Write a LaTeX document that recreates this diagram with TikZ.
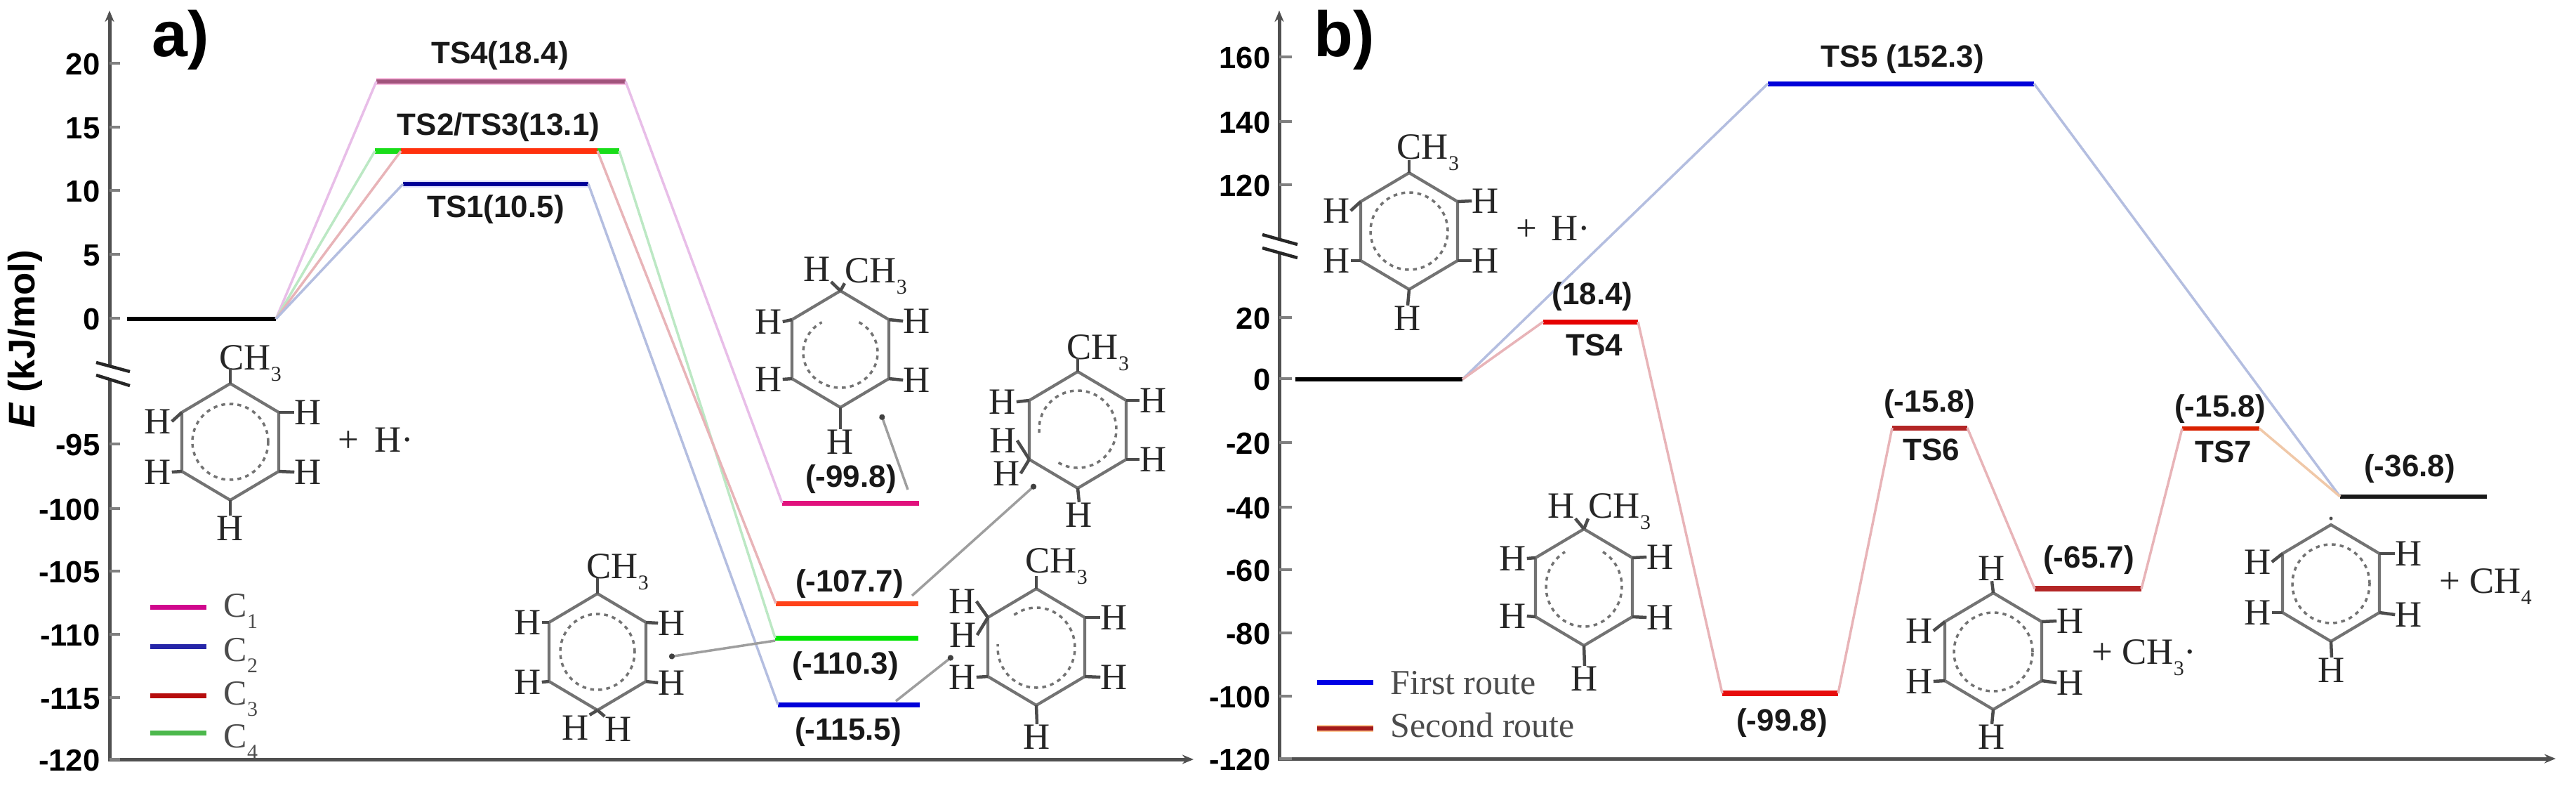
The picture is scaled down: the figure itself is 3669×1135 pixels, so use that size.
\documentclass[tikz,border=0pt]{standalone}
\usepackage{fontspec}
\setmainfont{Liberation Serif}
\newfontfamily\arialf{Liberation Sans}
\usetikzlibrary{arrows.meta}
\definecolor{axc}{HTML}{505050}
\definecolor{conM}{HTML}{E8BEE8}
\definecolor{conG}{HTML}{BCE8C4}
\definecolor{conR}{HTML}{E8B4B8}
\definecolor{conB}{HTML}{B4BEE0}
\definecolor{conO}{HTML}{F0C8A8}
\tikzset{
  x=0.01cm,y=-0.01cm,
  axisline/.style={draw=axc,line width=0.05cm},
  axisarrow/.style={axisline,-{Stealth[length=0.16cm,width=0.13cm]}},
  tickline/.style={draw=gray,line width=0.04cm},
  breakline/.style={draw=black!85,line width=0.045cm},
  ticklab/.style={anchor=east,inner sep=0pt,font=\arialf\bfseries\fontsize{12.4}{14}\selectfont,text height=0.32cm,text depth=0pt},
  lab/.style={inner sep=0pt,font=\arialf\bfseries\fontsize{12.5}{14}\selectfont,text=black!90,text height=0.32cm,text depth=0.07cm},
  panel/.style={inner sep=0pt,font=\arialf\bfseries\fontsize{26}{28}\selectfont},
  ylab/.style={inner sep=0pt,rotate=90,font=\arialf\bfseries\fontsize{15}{17}\selectfont},
  hlab/.style={inner sep=0pt,font=\fontsize{15}{17}\selectfont,text=black!85,text height=0.35cm,text depth=0pt},
  chem/.style={inner sep=0pt,anchor=west,font=\fontsize{15}{17}\selectfont,text=black!85,text height=0.35cm,text depth=0pt},
  legtext/.style={inner sep=0pt,anchor=west,font=\fontsize{14.2}{16}\selectfont,text=black!70,text height=0.33cm,text depth=0pt},
  ringline/.style={draw=black!55,line width=0.042cm,line join=round},
  ringdash/.style={draw=black!55,line width=0.035cm,dash pattern=on 0.055cm off 0.06cm},
  bond/.style={draw=black!70,line width=0.045cm},
  ptr/.style={draw=black!38,line width=0.035cm,-{Circle[length=0.08cm,black!75]}},
  con/.style={draw=#1,line width=0.035cm},
  lev/.style 2 args={draw=#1,line width=0.025cm,double=#2,double distance=0.055cm},
}
% name, cx, cy, circle cy, rx, ry, start angle, end angle
\newcommand{\ringm}[8]{%
  \coordinate (#11) at (#2,#3-83);
  \coordinate (#12) at (#2+69,#3-42);
  \coordinate (#13) at (#2+69,#3+42);
  \coordinate (#14) at (#2,#3+83);
  \coordinate (#15) at (#2-69,#3+42);
  \coordinate (#16) at (#2-69,#3-42);
  \draw[ringline] (#11)--(#12)--(#13)--(#14)--(#15)--(#16)--cycle;
  \draw[ringdash] plot[domain=#7:#8,samples=48,smooth] ({#2+#5*cos(\x)},{#4-#6*sin(\x)});
}
\newcommand{\atomH}[3]{\node[hlab] (#1) at (#2,#3) {H};}
\newcommand{\lvl}[5]{%
  \coordinate (#1L) at (#2,#4);
  \coordinate (#1R) at (#3,#4);
  \draw[#5] (#1L)--(#1R);
}
\newcommand{\subn}[1]{\raisebox{-0.16cm}{\fontsize{8.5}{9}\selectfont #1}}
\newcommand{\cthree}{CH\subn{3}}
\begin{document}
\begin{tikzpicture}
\useasboundingbox (0,0) rectangle (3669,1135);
% ---------- panel a axes
\coordinate (aTop) at (156,15);
\coordinate (aB1) at (156,522);
\coordinate (aB2) at (156,541);
\coordinate (aO) at (156,1081);
\coordinate (aEnd) at (1700,1081);
\draw[axisarrow,{Stealth[length=0.16cm,width=0.13cm]}-] (aTop)--(aB1);
\draw[axisarrow] (aB2)--(aO)--(aEnd);
\coordinate (aBr1a) at (137,516); \coordinate (aBr1b) at (185,529);
\coordinate (aBr2a) at (137,534); \coordinate (aBr2b) at (185,549);
\draw[breakline] (aBr1a)--(aBr1b);
\draw[breakline] (aBr2a)--(aBr2b);
\foreach \yy/\tt/\nn in {90/20/a,181/15/b,271/10/c,362/5/d,453/0/e,632/-95/f,724/-100/g,813/-105/h,903/-110/i,993/-115/j,1081/-120/k}{
  \node[ticklab] (at\nn) at (143,\yy) {\tt};
  \coordinate (atk\nn) at (156,\yy);
  \draw[tickline] (atk\nn)--++(15,0);
}
\node[panel] (apanel) at (257,57) {a)};
\node[ylab] (aylab) at (36,483) {\textit{E} (kJ/mol)};
% ---------- panel a levels
\lvl{a0}{181}{393}{454}{draw=black,line width=0.06cm}
\lvl{aTSg}{534}{882}{215}{draw=green!85!black!90,line width=0.08cm}
\lvl{aTSo}{571}{851}{215}{draw=orange!30!red!95,line width=0.08cm}
\lvl{aTSm}{536}{891}{116}{lev={magenta!25}{magenta!55!black!90}}
\lvl{aTSb}{574}{838}{262}{lev={blue!12}{blue!60!black}}
\lvl{aPm}{1114}{1309}{716}{draw=magenta!75!purple,line width=0.07cm}
\lvl{aPo}{1105}{1308}{859}{draw=orange!35!red!90,line width=0.07cm}
\lvl{aPg}{1104}{1308}{908}{draw=green!90!black,line width=0.07cm}
\lvl{aPb}{1108}{1310}{1003}{draw=blue!85!black,line width=0.07cm}
\draw[con=conM] (a0R)--(aTSmL);
\draw[con=conG] (a0R)--(aTSgL);
\draw[con=conR] (a0R)--(aTSoL);
\draw[con=conB] (a0R)--(aTSbL);
\draw[con=conM] (aTSmR)--(aPmL);
\draw[con=conG] (aTSgR)--(aPgL);
\draw[con=conR] (aTSoR)--(aPoL);
\draw[con=conB] (aTSbR)--(aPbL);
\node[lab] (aL1) at (712,78) {TS4(18.4)};
\node[lab] (aL2) at (710,180) {TS2/TS3(13.1)};
\node[lab] (aL3) at (706,297) {TS1(10.5)};
\node[lab] (aL4) at (1212,681) {(-99.8)};
\node[lab] (aL5) at (1210,830) {(-107.7)};
\node[lab] (aL6) at (1204,947) {(-110.3)};
\node[lab] (aL7) at (1208,1041) {(-115.5)};
% ---------- legend a
\foreach \nn/\yy/\cc/\ty in {1/864/magenta!85!blue/862,2/920/blue!60!black!85/925,3/990/red!70!black!95/987,4/1043/green!60!black!70/1048}{
  \coordinate (alL\nn) at (214,\yy);
  \coordinate (alR\nn) at (294,\yy);
  \draw[draw=\cc,line width=0.07cm] (alL\nn)--(alR\nn);
  \node[legtext] (alT\nn) at (318,\ty) {C\subn{\nn}};
}
% ---------- molecule 1: toluene + H
\ringm{ma}{328}{629}{629}{54}{54}{0}{360}
\atomH{maR1}{439}{587} \atomH{maR2}{439}{672} \atomH{maL1}{225}{600} \atomH{maL2}{225}{672} \atomH{maB}{328}{752}
\node[chem] (maC) at (312,509) {\cthree};
\node[chem] (maP) at (481,626) {+\hspace{0.22cm}H·};
\draw[bond] (ma1)--(328,524);
\draw[bond] (ma2)--(maR1.west); \draw[bond] (ma3)--(maR2.west);
\draw[bond] (ma6)--(maL1.east); \draw[bond] (ma5)--(maL2.east); \draw[bond] (ma4)--(maB.north);
% ---------- molecule 2: H, CH3 top
\ringm{mb}{1197}{497}{502}{53}{50}{60}{-240}
\atomH{mbR1}{1306}{457} \atomH{mbR2}{1306}{541} \atomH{mbL1}{1095}{458} \atomH{mbL2}{1095}{540} \atomH{mbB}{1197}{629} \atomH{mbT}{1164}{383}
\node[chem] (mbC) at (1203,385) {\cthree};
\draw[bond] (mb1)--(mbT.south east); \draw[bond] (mb1)--(mbC.south west);
\draw[bond] (mb2)--(mbR1.west); \draw[bond] (mb3)--(mbR2.west);
\draw[bond] (mb6)--(mbL1.east); \draw[bond] (mb5)--(mbL2.east); \draw[bond] (mb4)--(mbB.north);
% ---------- molecule 3
\ringm{mc}{1535}{612}{611}{55}{55}{-120}{185}
\atomH{mcR1}{1643}{570} \atomH{mcR2}{1643}{654} \atomH{mcL1}{1428}{572} \atomH{mcL2}{1429}{627} \atomH{mcL3}{1434}{674} \atomH{mcB}{1537}{733}
\node[chem] (mcC) at (1519,494) {\cthree};
\draw[bond] (mc1)--(1535,510);
\draw[bond] (mc2)--(mcR1.west); \draw[bond] (mc3)--(mcR2.west);
\draw[bond] (mc6)--(mcL1.east); \draw[bond] (mc5)--(mcL2.east); \draw[bond] (mc5)--(mcL3.east); \draw[bond] (mc4)--(mcB.north);
% ---------- molecule 4
\ringm{md}{1476}{921}{922}{55}{57}{125}{-185}
\atomH{mdR1}{1587}{879} \atomH{mdR2}{1587}{964} \atomH{mdL1}{1371}{856} \atomH{mdL2}{1372}{904} \atomH{mdL3}{1371}{964} \atomH{mdB}{1477}{1049}
\node[chem] (mdC) at (1460,798) {\cthree};
\draw[bond] (md1)--(1476,820);
\draw[bond] (md2)--(mdR1.west); \draw[bond] (md3)--(mdR2.west);
\draw[bond] (md6)--(mdL1.east); \draw[bond] (md6)--(mdL2.east); \draw[bond] (md5)--(mdL3.east); \draw[bond] (md4)--(mdB.north);
% ---------- molecule 5
\ringm{me}{851}{928}{928}{53}{54}{0}{360}
\atomH{meR1}{957}{887} \atomH{meR2}{957}{972} \atomH{meL1}{752}{886} \atomH{meL2}{752}{971} \atomH{meB1}{820}{1036} \atomH{meB2}{881}{1038}
\node[chem] (meC) at (835,806) {\cthree};
\draw[bond] (me1)--(851,823);
\draw[bond] (me2)--(meR1.west); \draw[bond] (me3)--(meR2.west);
\draw[bond] (me6)--(meL1.east); \draw[bond] (me5)--(meL2.east);
\draw[bond] (me4)--(meB1.north east); \draw[bond] (me4)--(meB2.north west);
% ---------- pointers a
\coordinate (pa1s) at (1293,697); \coordinate (pa1e) at (1255,590);
\coordinate (pa2s) at (1299,848); \coordinate (pa2e) at (1475,690);
\coordinate (pa3s) at (1104,912); \coordinate (pa3e) at (953,935);
\coordinate (pa4s) at (1276,998); \coordinate (pa4e) at (1357,934);
\draw[ptr] (pa1s)--(pa1e);
\draw[ptr] (pa2s)--(pa2e);
\draw[ptr] (pa3s)--(pa3e);
\draw[ptr] (pa4s)--(pa4e);
% ---------- panel b axes
\coordinate (bTop) at (1822,15);
\coordinate (bB1) at (1822,341);
\coordinate (bB2) at (1822,360);
\coordinate (bO) at (1822,1080);
\coordinate (bEnd) at (3640,1080);
\draw[axisarrow,{Stealth[length=0.16cm,width=0.13cm]}-] (bTop)--(bB1);
\draw[axisarrow] (bB2)--(bO)--(bEnd);
\coordinate (bBr1a) at (1798,334); \coordinate (bBr1b) at (1848,348);
\coordinate (bBr2a) at (1798,353); \coordinate (bBr2b) at (1848,367);
\draw[breakline] (bBr1a)--(bBr1b);
\draw[breakline] (bBr2a)--(bBr2b);
\foreach \yy/\tt/\nn in {81/160/a,173/140/b,263/120/c,452/20/d,539/0/e,630/-20/f,722/-40/g,811/-60/h,901/-80/i,991/-100/j,1080/-120/k}{
  \node[ticklab] (bt\nn) at (1810,\yy) {\tt};
  \coordinate (btk\nn) at (1822,\yy);
  \draw[tickline] (btk\nn)--++(18,0);
}
\node[panel] (bpanel) at (1915,57) {b)};
% ---------- panel b levels
\lvl{b0}{1845}{2083}{540}{draw=black,line width=0.06cm}
\lvl{bTS4}{2198}{2333}{458}{draw=red!90!black,line width=0.07cm}
\lvl{bTS5}{2518}{2897}{119}{draw=blue!85!black,line width=0.07cm}
\lvl{bI1}{2453}{2618}{987}{draw=red!90!black!95,line width=0.08cm}
\lvl{bTS6}{2695}{2802}{609}{draw=red!65!black!85,line width=0.07cm}
\lvl{bI2}{2898}{3050}{838}{draw=red!65!black!85,line width=0.08cm}
\lvl{bTS7}{3108}{3218}{610}{draw=orange!30!red!85!black,line width=0.06cm}
\lvl{bP}{3333}{3542}{707}{draw=black!90,line width=0.06cm}
\draw[con=conB] (b0R)--(bTS5L);
\draw[con=conB] (bTS5R)--(bPL);
\draw[con=conR] (b0R)--(bTS4L);
\draw[con=conR] (bTS4R)--(bI1L);
\draw[con=conR] (bI1R)--(bTS6L);
\draw[con=conR] (bTS6R)--(bI2L);
\draw[con=conR] (bI2R)--(bTS7L);
\draw[con=conO] (bTS7R)--(bPL);
\node[lab] (bL1) at (2710,83) {TS5 (152.3)};
\node[lab] (bL2) at (2268,421) {(18.4)};
\node[lab] (bL3) at (2271,494) {TS4};
\node[lab] (bL4) at (2538,1028) {(-99.8)};
\node[lab] (bL5) at (2748,574) {(-15.8)};
\node[lab] (bL6) at (2751,643) {TS6};
\node[lab] (bL7) at (2975,796) {(-65.7)};
\node[lab] (bL8) at (3162,581) {(-15.8)};
\node[lab] (bL9) at (3167,646) {TS7};
\node[lab] (bL10) at (3432,666) {(-36.8)};
% ---------- legend b
\coordinate (blL1) at (1876,971); \coordinate (blR1) at (1956,971);
\coordinate (blL2) at (1876,1037); \coordinate (blR2) at (1956,1037);
\draw[draw=blue!90!black,line width=0.07cm] (blL1)--(blR1);
\draw[lev={orange!40}{red!60!black!90}] (blL2)--(blR2);
\node[legtext] (blT1) at (1980,972) {First route};
\node[legtext] (blT2) at (1980,1033) {Second route};
% ---------- molecule 6
\ringm{mf}{2007}{329}{329}{55}{55}{0}{360}
\atomH{mfR1}{2116}{286} \atomH{mfR2}{2116}{371} \atomH{mfL1}{1904}{300} \atomH{mfL2}{1904}{371} \atomH{mfB}{2005}{453}
\node[chem] (mfC) at (1989,209) {\cthree};
\node[chem] (mfP) at (2159,325) {+\hspace{0.2cm}H·};
\draw[bond] (mf1)--(2007,228);
\draw[bond] (mf2)--(mfR1.west); \draw[bond] (mf3)--(mfR2.west);
\draw[bond] (mf6)--(mfL1.east); \draw[bond] (mf5)--(mfL2.east); \draw[bond] (mf4)--(mfB.north);
% ---------- molecule 7
\ringm{mg}{2256}{836}{835}{54}{57}{60}{-240}
\atomH{mgR1}{2365}{793} \atomH{mgR2}{2365}{879} \atomH{mgL1}{2155}{795} \atomH{mgL2}{2155}{877} \atomH{mgB}{2257}{966} \atomH{mgT}{2224}{720}
\node[chem] (mgC) at (2262,720) {\cthree};
\draw[bond] (mg1)--(mgT.south east); \draw[bond] (mg1)--(mgC.south west);
\draw[bond] (mg2)--(mgR1.west); \draw[bond] (mg3)--(mgR2.west);
\draw[bond] (mg6)--(mgL1.east); \draw[bond] (mg5)--(mgL2.east); \draw[bond] (mg4)--(mgB.north);
% ---------- molecule 8
\ringm{mh}{2839}{927}{928}{56}{56}{0}{360}
\atomH{mhR1}{2949}{884} \atomH{mhR2}{2949}{972} \atomH{mhL1}{2734}{898} \atomH{mhL2}{2734}{970} \atomH{mhB}{2837}{1049} \atomH{mhT}{2837}{809}
\node[chem] (mhP) at (2979,928) {+ \cthree·};
\draw[bond] (mh1)--(mhT.south);
\draw[bond] (mh2)--(mhR1.west); \draw[bond] (mh3)--(mhR2.west);
\draw[bond] (mh6)--(mhL1.east); \draw[bond] (mh5)--(mhL2.east); \draw[bond] (mh4)--(mhB.north);
% ---------- molecule 9
\ringm{mi}{3320}{830}{831}{55}{56}{0}{360}
\atomH{miR1}{3431}{788} \atomH{miR2}{3431}{875} \atomH{miL1}{3216}{800} \atomH{miL2}{3216}{872} \atomH{miB}{3321}{954}
\node[chem] (miP) at (3474,827) {+ CH\subn{4}};
\node[circle,fill=black!70,inner sep=0pt,minimum size=0.05cm] (miD) at (3320,738) {};
\draw[bond] (mi2)--(miR1.west); \draw[bond] (mi3)--(miR2.west);
\draw[bond] (mi6)--(miL1.east); \draw[bond] (mi5)--(miL2.east); \draw[bond] (mi4)--(miB.north);
\end{tikzpicture}
\end{document}
